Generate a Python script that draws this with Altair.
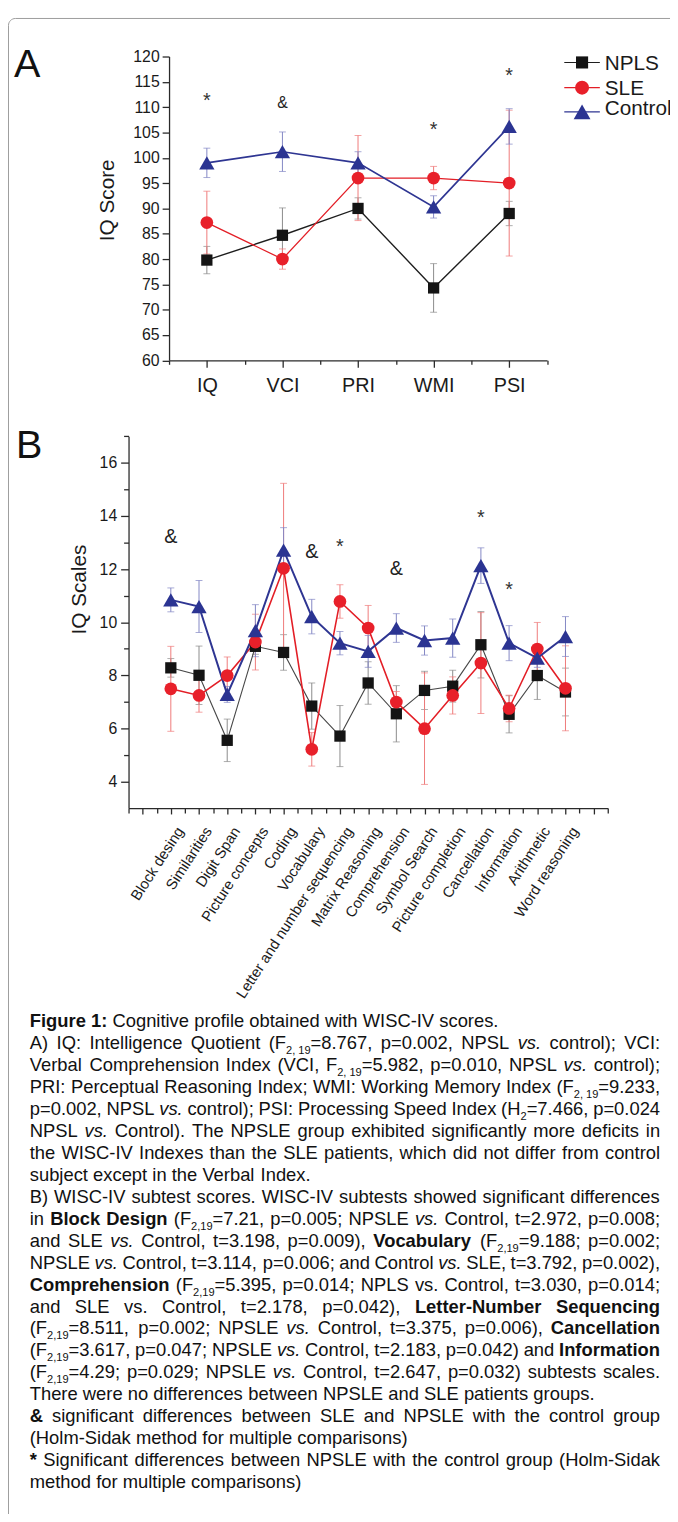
import altair as alt
import pandas as pd

FONT = "Liberation Sans"
CAP_FONT = "Liberation Sans"

SERIES = ["NPLS", "SLE", "Control"]

# ---------------- Panel A: WISC-IV indexes ----------------
A_CATS = ["IQ", "VCI", "PRI", "WMI", "PSI"]
A_NPLS = [79.8, 84.7, 90.0, 74.3, 89.0]
A_NPLS_ERR = [2.7, 5.4, 2.1, 4.8, 2.4]
A_SLE = [87.2, 80.0, 96.0, 96.0, 95.0]
A_SLE_ERR = [6.2, 2.0, 8.4, 2.3, 14.4]
A_CTRL = [99.0, 101.2, 99.0, 90.3, 106.2]
A_CTRL_ERR = [2.9, 3.9, 2.2, 2.2, 3.5]
A_MARK_CAT = ["IQ", "VCI", "WMI", "PSI"]
A_MARK_TXT = ["*", "&", "*", "*"]
A_MARK_Y = [112.2, 111.0, 106.5, 117.2]
A_YTICKS = [60, 65, 70, 75, 80, 85, 90, 95, 100, 105, 110, 115, 120]

# ---------------- Panel B: WISC-IV subtests ----------------
B_CATS = ["Block desing", "Similarities", "Digit Span", "Picture concepts", "Coding",
          "Vocabulary", "Letter and number sequencing", "Matrix Reasoning",
          "Comprehension", "Symbol Search", "Picture completion", "Cancellation",
          "Information", "Arithmetic", "Word reasoning"]
B_NPLS = [8.28, 8.0, 5.55, 9.09, 8.86, 6.84, 5.71, 7.71, 6.55, 7.43, 7.59, 9.15, 6.53, 7.99, 7.37]
B_NPLS_ERR = [0.35, 1.1, 0.8, 0.3, 0.67, 0.87, 1.15, 0.8, 1.06, 0.72, 0.6, 1.25, 0.7, 0.9, 0.9]
B_SLE = [7.49, 7.24, 7.99, 9.25, 12.03, 5.21, 10.78, 9.78, 6.99, 5.99, 7.24, 8.46, 6.75, 8.99, 7.51]
B_SLE_ERR = [1.6, 0.63, 0.7, 1.05, 3.2, 0.63, 0.63, 0.85, 0.4, 2.1, 0.7, 1.9, 0.5, 1.0, 1.6]
B_CTRL = [10.84, 10.59, 7.28, 9.68, 12.71, 10.21, 9.21, 8.9, 9.78, 9.31, 9.4, 12.13, 9.21, 8.65, 9.46]
B_CTRL_ERR = [0.45, 0.98, 0.3, 0.98, 0.85, 0.65, 0.44, 0.6, 0.54, 0.55, 0.72, 0.67, 0.66, 0.35, 0.75]
B_MARK_CAT = ["Block desing", "Vocabulary", "Letter and number sequencing",
              "Comprehension", "Cancellation", "Information"]
B_MARK_TXT = ["&", "&", "*", "&", "*", "*"]
B_MARK_Y = [13.24, 12.68, 13.05, 12.03, 14.13, 11.4]
B_YTICKS = [4, 5, 6, 7, 8, 9, 10, 11, 12, 13, 14, 15, 16, 17]

# ---------------- Caption text ----------------
CAP_LINES = [
    [("Figure 1:", "b"), (" Cognitive profile obtained with WISC-IV scores.", "n")],
    [("A) IQ: Intelligence Quotient (F", "n"), ("2, 19", "sub"), ("=8.767, p=0.002, NPSL ", "n"), ("vs.", "i"), (" control); VCI:", "n")],
    [("Verbal Comprehension Index (VCI, F", "n"), ("2, 19", "sub"), ("=5.982, p=0.010, NPSL ", "n"), ("vs.", "i"), (" control);", "n")],
    [("PRI: Perceptual Reasoning Index; WMI: Working Memory Index (F", "n"), ("2, 19", "sub"), ("=9.233,", "n")],
    [("p=0.002, NPSL ", "n"), ("vs.", "i"), (" control); PSI: Processing Speed Index (H", "n"), ("2", "sub"), ("=7.466, p=0.024", "n")],
    [("NPSL ", "n"), ("vs.", "i"), (" Control). The NPSLE group exhibited significantly more deficits in", "n")],
    [("the WISC-IV Indexes than the SLE patients, which did not differ from control", "n")],
    [("subject except in the Verbal Index.", "n")],
    [("B) WISC-IV subtest scores. WISC-IV subtests showed significant differences", "n")],
    [("in ", "n"), ("Block Design", "b"), (" (F", "n"), ("2,19", "sub"), ("=7.21, p=0.005; NPSLE ", "n"), ("vs.", "i"), (" Control, t=2.972, p=0.008;", "n")],
    [("and SLE ", "n"), ("vs.", "i"), (" Control, t=3.198, p=0.009), ", "n"), ("Vocabulary", "b"), (" (F", "n"), ("2,19", "sub"), ("=9.188; p=0.002;", "n")],
    [("NPSLE ", "n"), ("vs.", "i"), (" Control, t=3.114, p=0.006; and Control ", "n"), ("vs.", "i"), (" SLE, t=3.792, p=0.002),", "n")],
    [("Comprehension", "b"), (" (F", "n"), ("2,19", "sub"), ("=5.395, p=0.014; NPLS vs. Control, t=3.030, p=0.014;", "n")],
    [("and SLE vs. Control, t=2.178, p=0.042), ", "n"), ("Letter-Number Sequencing", "b")],
    [("(F", "n"), ("2,19", "sub"), ("=8.511, p=0.002; NPSLE ", "n"), ("vs.", "i"), (" Control, t=3.375, p=0.006), ", "n"), ("Cancellation", "b")],
    [("(F", "n"), ("2,19", "sub"), ("=3.617, p=0.047; NPSLE ", "n"), ("vs.", "i"), (" Control, t=2.183, p=0.042) and ", "n"), ("Information", "b")],
    [("(F", "n"), ("2,19", "sub"), ("=4.29; p=0.029; NPSLE ", "n"), ("vs.", "i"), (" Control, t=2.647, p=0.032) subtests scales.", "n")],
    [("There were no differences between NPSLE and SLE patients groups.", "n")],
    [("&", "b"), (" significant differences between SLE and NPSLE with the control group", "n")],
    [("(Holm-Sidak method for multiple comparisons)", "n")],
    [("*", "b"), (" Significant differences between NPSLE with the control group (Holm-Sidak", "n")],
    [("method for multiple comparisons)", "n")],
]
CAP_JUSTIFY = [False, True, True, True, True, True, True, False, True, True, True,
               True, True, True, True, True, True, False, True, False, True, False]

# ---------------- layout (page pixels; the svg starts at 8,8) ----------------
W, H = 670, 1506
OX, OY = 8, 8
A_X0, A_X1, A_YB, A_YT = 171.0, 553.5, 355.5, 48.0
B_X0, B_X1, B_YB, B_YT = 130.0, 615.0, 808.6, 432.4

LOOK = {
    "NPLS": dict(shape="square", fill="#141414", err="#8a8a8a", lineA="#1e1e1e", wA=1.4, lineB="#474747", wB=1.1, size=130),
    "SLE": dict(shape="circle", fill="#e8202a", err="#ef7a7a", lineA="#e31e26", wA=1.3, lineB="#e31e26", wB=1.6, size=165),
    "Control": dict(shape="triangle-up", fill="#2b3492", err="#8286c4", lineA="#2e3592", wA=1.6, lineB="#2e3592", wB=2.0, size=240),
}
AXC = "#2a2a2a"


def long_df(cats, vals, errs):
    rows = []
    for s in SERIES:
        for i, c in enumerate(cats):
            m, e = vals[s][i], errs[s][i]
            rows.append(dict(series=s, cat=c, xi=i + 1, mean=m, lo=m - e, hi=m + e))
    return pd.DataFrame(rows)


dfA = long_df(A_CATS, {"NPLS": A_NPLS, "SLE": A_SLE, "Control": A_CTRL},
              {"NPLS": A_NPLS_ERR, "SLE": A_SLE_ERR, "Control": A_CTRL_ERR})
dfB = long_df(B_CATS, {"NPLS": B_NPLS, "SLE": B_SLE, "Control": B_CTRL},
              {"NPLS": B_NPLS_ERR, "SLE": B_SLE_ERR, "Control": B_CTRL_ERR})
annA = pd.DataFrame(dict(xi=[A_CATS.index(c) + 1 for c in A_MARK_CAT], v=A_MARK_Y, t=A_MARK_TXT))
annB = pd.DataFrame(dict(xi=[B_CATS.index(c) + 1 for c in B_MARK_CAT], v=B_MARK_Y, t=B_MARK_TXT))


def names_expr(names):
    arr = "[" + ",".join("'" + n + "'" for n in names) + "]"
    return ("(datum.value % 1 === 0 && datum.value >= 1 && datum.value <= " + str(len(names))
            + ") ? " + arr + "[datum.value - 1] : ''")


# scales
A_xs = alt.Scale(domain=[0.5, 5.5], range=[A_X0 - OX, A_X1 - OX], nice=False, zero=False)
A_ys = alt.Scale(domain=[60, 120], range=[A_YB - OY, A_YT - OY], nice=False, zero=False)
B_xs = alt.Scale(domain=[-0.5, 16.5], range=[B_X0 - OX, B_X1 - OX], nice=False, zero=False)
B_ys = alt.Scale(domain=[3, 17], range=[B_YB - OY, B_YT - OY], nice=False, zero=False)

common_axis = dict(domainColor=AXC, tickColor=AXC, domainWidth=1.3, tickWidth=1.3, grid=False,
                   labelFont=FONT, labelColor="#1a1a1a", labelFlush=False, labelOverlap=False,
                   titleFont=FONT, titleColor="#1a1a1a", titleFontWeight="normal")

A_xaxis = alt.Axis(orient="bottom", offset=(A_YB - OY) - H, title=None,
                   values=[0.5 * k for k in range(1, 12)], labelExpr=names_expr(A_CATS),
                   tickSize={"condition": {"test": "datum.value % 1 !== 0", "value": 4}, "value": 7},
                   labelFontSize=20, labelPadding=9, **common_axis)
A_yaxis = alt.Axis(orient="left", offset=-(A_X0 - OX), values=A_YTICKS, tickSize=7,
                   labelFontSize=16, labelPadding=3, title="IQ Score", titleFontSize=21,
                   titleAngle=270, titleAlign="center", titleBaseline="middle",
                   titleX=108.5 - A_X0, titleY=193 - OY, **common_axis)
B_xaxis = alt.Axis(orient="bottom", offset=(B_YB - OY) - H, title=None,
                   values=[-0.5 + 0.5 * k for k in range(0, 35)], labelExpr=names_expr(B_CATS),
                   tickSize={"condition": {"test": "datum.value % 1 !== 0", "value": 5}, "value": 6},
                   labelFontSize=15, labelAngle=303, labelAlign="right", labelBaseline="middle",
                   labelPadding=14, labelOffset=9, labelLimit=400, **common_axis)
B_yaxis = alt.Axis(orient="left", offset=-(B_X0 - OX), values=B_YTICKS,
                   tickSize={"condition": {"test": "datum.value % 2 !== 0", "value": 5}, "value": 8},
                   labelExpr="datum.value % 2 === 0 ? '' + datum.value : ''",
                   labelFontSize=16, labelPadding=4, title="IQ Scales", titleFontSize=21,
                   titleAngle=270, titleAlign="center", titleBaseline="middle",
                   titleX=80 - B_X0, titleY=587 - OY, **common_axis)


def make_panel(df, ann, xs, ys, xaxis, yaxis, which, star_fs, amp_fs):
    X = alt.X("xi:Q", scale=xs, axis=xaxis)

    def Yf(field):
        return alt.Y(field + ":Q", scale=ys, axis=yaxis)

    layers = []
    for s in SERIES:
        st = LOOK[s]
        base = alt.Chart(df[df.series == s])
        layers.append(base.mark_rule(color=st["err"], strokeWidth=1).encode(x=X, y=Yf("lo"), y2=alt.Y2("hi")))
        for f in ("lo", "hi"):
            layers.append(base.mark_tick(orient="horizontal", color=st["err"], size=7, thickness=1)
                          .encode(x=X, y=Yf(f)))
    for s in SERIES:
        st = LOOK[s]
        layers.append(alt.Chart(df[df.series == s]).mark_line(
            color=st["line" + which], strokeWidth=st["w" + which]).encode(x=X, y=Yf("mean")))
    for s in SERIES:
        st = LOOK[s]
        layers.append(alt.Chart(df[df.series == s]).mark_point(
            shape=st["shape"], filled=True, color=st["fill"], opacity=1, size=st["size"]
        ).encode(x=X, y=Yf("mean")))
    star = ann[ann.t == "*"]
    amp = ann[ann.t == "&"]
    layers.append(alt.Chart(star).mark_text(font=FONT, fontSize=star_fs, color="#333333",
                                            baseline="alphabetic", dy=star_fs * 0.58)
                  .encode(x=X, y=Yf("v"), text="t:N"))
    layers.append(alt.Chart(amp).mark_text(font=FONT, fontSize=amp_fs, color="#222222",
                                           baseline="alphabetic", dy=amp_fs * 0.36)
                  .encode(x=X, y=Yf("v"), text="t:N"))
    return alt.layer(*layers)


panelA = make_panel(dfA, annA, A_xs, A_ys, A_xaxis, A_yaxis, "A", 20, 16)
panelB = make_panel(dfB, annB, B_xs, B_ys, B_xaxis, B_yaxis, "B", 20, 20)

# legend of panel A
LEG_Y = {"NPLS": 54, "SLE": 79.5, "Control": 104}
LEG_TY = {"NPLS": 54, "SLE": 79, "Control": 100}
LEG_SIZE = {"NPLS": 150, "SLE": 200, "Control": 290}
legend = []
for s in SERIES:
    st = LOOK[s]
    d = alt.Chart(pd.DataFrame({"series": [s]}))
    yl = LEG_Y[s] - OY
    legend.append(d.mark_rule(color=st["lineA"], strokeWidth=1.1).encode(
        x=alt.value(571 - OX), x2=alt.value(607 - OX), y=alt.value(yl)))
    legend.append(d.mark_point(shape=st["shape"], filled=True, color=st["fill"], opacity=1,
                               size=LEG_SIZE[s]).encode(x=alt.value(589 - OX), y=alt.value(yl)))
    legend.append(d.mark_text(font=FONT, fontSize=21, color="#1a1a1a", align="left",
                              baseline="alphabetic").encode(
        x=alt.value(612 - OX), y=alt.value(LEG_TY[s] - OY + 7.5), text="series:N"))

# panel letters and frame
one = alt.Chart(pd.DataFrame({"k": [0]}))
letters = [
    one.mark_text(font=FONT, fontSize=40, align="left", baseline="alphabetic", color="#111111")
    .encode(x=alt.value(14 - OX), y=alt.value(69 - OY), text=alt.value("A")),
    one.mark_text(font=FONT, fontSize=40, align="left", baseline="alphabetic", color="#111111")
    .encode(x=alt.value(16 - OX), y=alt.value(454 - OY), text=alt.value("B")),
]
frame = one.mark_rect(filled=False, stroke="#9c9c9c", strokeWidth=1, cornerRadius=7).encode(
    x=alt.value(0.5), x2=alt.value(W + 40), y=alt.value(1.5), y2=alt.value(H + 40))

# ---------------- caption layout (justified text, Arial metrics) ----------------
REG = {' ': 278, '!': 278, '"': 355, '#': 556, '$': 556, '%': 889, '&': 667, "'": 191, '(': 333, ')': 333,
       '*': 389, '+': 584, ',': 278, '-': 333, '.': 278, '/': 278, ':': 278, ';': 278, '<': 584, '=': 584,
       '>': 584, '?': 556, '@': 1015, 'A': 667, 'B': 667, 'C': 722, 'D': 722, 'E': 667, 'F': 611, 'G': 778,
       'H': 722, 'I': 278, 'J': 500, 'K': 667, 'L': 556, 'M': 833, 'N': 722, 'O': 778, 'P': 667, 'Q': 778,
       'R': 722, 'S': 667, 'T': 611, 'U': 722, 'V': 667, 'W': 944, 'X': 667, 'Y': 667, 'Z': 611,
       'a': 556, 'b': 556, 'c': 500, 'd': 556, 'e': 556, 'f': 278, 'g': 556, 'h': 556, 'i': 222, 'j': 222,
       'k': 500, 'l': 222, 'm': 833, 'n': 556, 'o': 556, 'p': 556, 'q': 556, 'r': 333, 's': 500, 't': 278,
       'u': 556, 'v': 500, 'w': 722, 'x': 500, 'y': 500, 'z': 500}
BOLD = dict(REG)
BOLD.update({'!': 333, '&': 722, ':': 333, ';': 333, '?': 611, 'A': 722, 'B': 722, 'J': 556, 'K': 722,
             'L': 611, 'b': 611, 'c': 556, 'd': 611, 'f': 333, 'g': 611, 'h': 611, 'i': 278, 'j': 278,
             'k': 556, 'l': 278, 'm': 889, 'n': 611, 'o': 611, 'p': 611, 'q': 611, 'r': 389, 's': 556,
             't': 333, 'u': 611, 'v': 556, 'w': 778, 'x': 556, 'y': 556})
CAP_FS = 18.6
CAP_WF = 1.0
SUB_K = 0.6
SUB_DROP = 5.0
CAP_LEFT, CAP_RIGHT = 30 - OX, 668 - OX
CAP_Y0, CAP_DY = 1030.6 - OY, 22.2


def run_w(text, style):
    table = BOLD if style == "b" else REG
    size = CAP_FS * (SUB_K if style == "sub" else 1.0)
    return sum(table.get(ch, 556) for ch in text) / 1000.0 * size * CAP_WF


def split_words(runs):
    words = [[]]
    for text, style in runs:
        if style == "sub":
            words[-1].append((text, style))
            continue
        for k, part in enumerate(text.split(" ")):
            if k > 0:
                words.append([])
            if part:
                words[-1].append((part, style))
    return [w for w in words if w]


cap_rows = []
for li, runs in enumerate(CAP_LINES):
    words = split_words(runs)
    ww = [sum(run_w(t, s) for t, s in w) for w in words]
    space = run_w(" ", "n")
    natural = sum(ww) + space * (len(words) - 1)
    gap = space
    if CAP_JUSTIFY[li] and len(words) > 1:
        gap = max(space * 0.55, space + (CAP_RIGHT - CAP_LEFT - natural) / (len(words) - 1))
    x = CAP_LEFT
    y = CAP_Y0 + li * CAP_DY
    for w, wid in zip(words, ww):
        cx = x
        for t, s in w:
            cap_rows.append(dict(x=cx, y=y + (SUB_DROP if s == "sub" else 0.0), t=t, s=s))
            cx += run_w(t, s)
        x += wid + gap
cap_df = pd.DataFrame(cap_rows)

caption = []
for s, kw in [("n", {}), ("b", {"fontWeight": "bold"}), ("i", {"fontStyle": "italic"}),
              ("sub", {"fontSize": CAP_FS * SUB_K})]:
    props = dict(font=CAP_FONT, fontSize=CAP_FS, align="left", baseline="alphabetic", color="#111111")
    props.update(kw)
    caption.append(alt.Chart(cap_df[cap_df.s == s]).mark_text(**props).encode(
        x=alt.X("x:Q", scale=None, axis=None), y=alt.Y("y:Q", scale=None, axis=None), text="t:N"))

chart = alt.layer(
    frame, *letters, panelA, alt.layer(*legend), panelB, *caption
).resolve_scale(x="independent", y="independent").properties(
    width=W, height=H, autosize=alt.AutoSizeParams(type="none"), padding=0,
    background="white",
).configure_view(stroke=None)

chart.save("out.html", embed_options={"renderer": "svg", "actions": False})
